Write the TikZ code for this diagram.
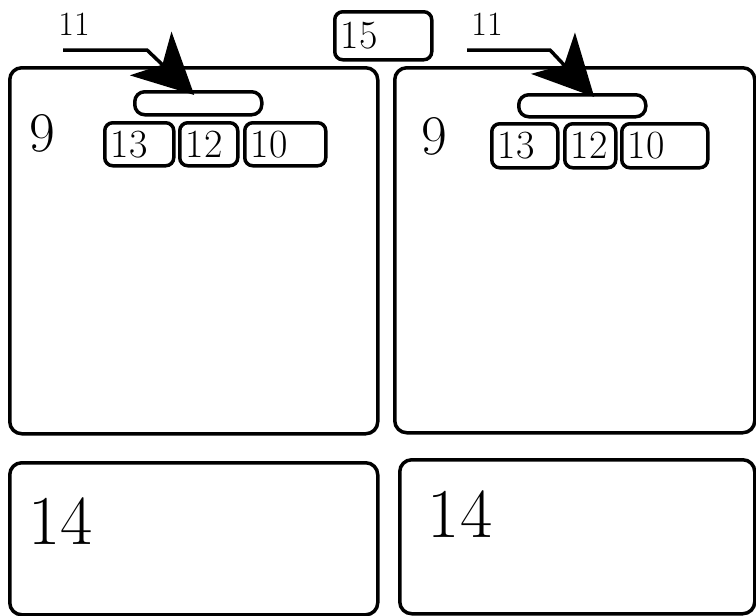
\documentclass[tikz,border=0pt]{standalone}
\usetikzlibrary{arrows.meta,positioning}
\begin{document}
\begin{tikzpicture}[x=1pt,y=-1pt,
  box/.style={draw,line width=3.5pt,rounded corners=8pt,anchor=north west,inner xsep=6pt,inner ysep=0pt,align=left,font=\fontsize{40}{42}\selectfont},
  big/.style={draw,line width=3.5pt,rounded corners=12pt,anchor=north west,inner sep=0pt},
  bar/.style={draw,line width=3.5pt,rounded corners=10pt,anchor=north west,inner sep=0pt,minimum width=127pt,minimum height=23pt},
  callout/.style={line width=3.5pt,-{Stealth[length=60pt,width=60pt,inset=16pt]}}]
\useasboundingbox (0,0) rectangle (756,616);

\node[box,text width=85pt,minimum height=48pt] (b15) at (333,10) {15};

\node[big,minimum width=368pt,minimum height=366pt] (p1) at (8,66) {};
\node[big,minimum width=360pt,minimum height=365pt] (p2) at (393,66) {};
\node[big,minimum width=368pt,minimum height=152pt] (q1) at (8,461) {};
\node[big,minimum width=355pt,minimum height=154pt] (q2) at (398,458) {};

\node[font=\fontsize{56}{58}\selectfont] (n9a) at (42,133) {9};
\node[font=\fontsize{56}{58}\selectfont] (n9b) at (434,136) {9};
\node[font=\fontsize{70}{72}\selectfont] (n14a) at (61,521) {14};
\node[font=\fontsize{70}{72}\selectfont] (n14b) at (460,514) {14};

\node[bar] (bar1) at (133,90) {};
\node[box,text width=57pt,minimum height=43pt] (b13a) at (103,121) {13};
\node[box,text width=46pt,minimum height=43pt] (b12a) at (178,121) {12};
\node[box,text width=69pt,minimum height=43pt] (b10a) at (243,121) {10};

\node[bar,minimum height=22pt] (bar2) at (517,93) {};
\node[box,text width=54pt,minimum height=44pt] (b13b) at (490,122) {13};
\node[box,text width=39pt,minimum height=44pt] (b12b) at (563,122) {12};
\node[box,text width=74pt,minimum height=44pt] (b10b) at (620,122) {10};

\node[font=\fontsize{34}{36}\selectfont] (l11a) at (74,24) {11};
\node[font=\fontsize{34}{36}\selectfont] (l11b) at (487,24) {11};
\coordinate (s1) at (63,50);
\coordinate (s2) at (467,50);
\draw[callout] (s1) -- ++(84,0) -- ([shift={(-4pt,-5pt)}]bar1.north);
\draw[callout] (s2) -- ++(83,0) -- ([shift={(12pt,-4pt)}]bar2.north);
\end{tikzpicture}
\end{document}
